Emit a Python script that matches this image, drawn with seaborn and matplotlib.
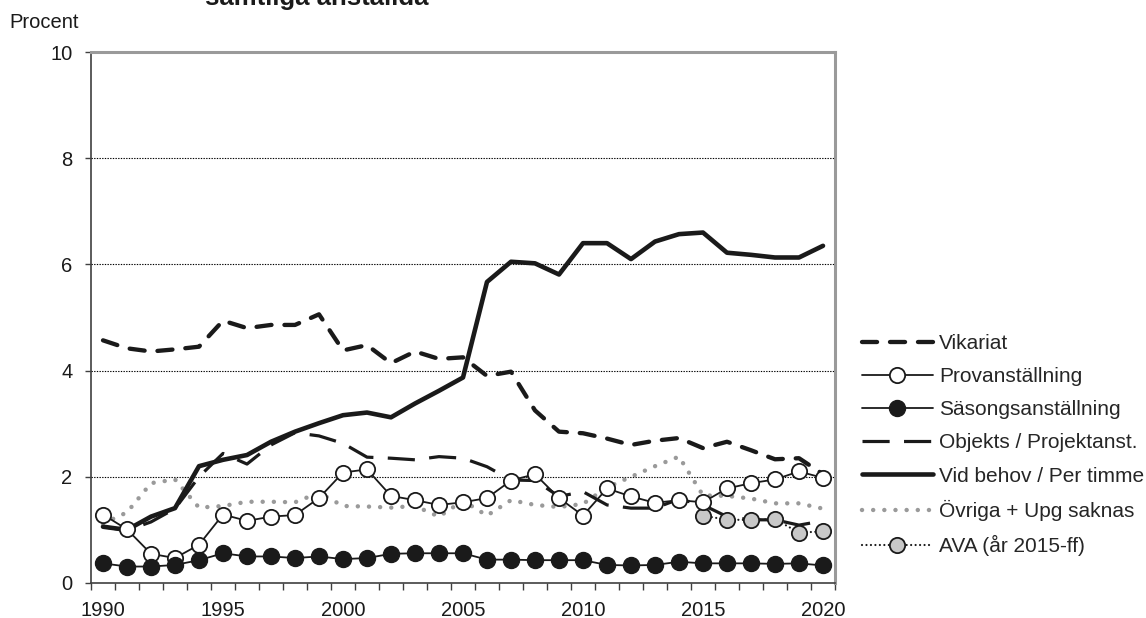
import numpy as np
import pandas as pd
import seaborn as sns
import matplotlib.pyplot as plt

years = list(range(1990, 2021))

vikariat = [4.57, 4.42, 4.36, 4.40, 4.45, 4.94, 4.80, 4.86, 4.86, 5.06, 4.38, 4.48, 4.14, 4.36,
            4.22, 4.25, 3.90, 3.98, 3.25, 2.85, 2.82, 2.72, 2.60, 2.68, 2.73, 2.54, 2.66, 2.50,
            2.33, 2.35, 2.05]
provanst = [1.29, 1.01, 0.55, 0.47, 0.72, 1.29, 1.17, 1.25, 1.28, 1.60, 2.08, 2.14, 1.64, 1.56,
            1.47, 1.52, 1.60, 1.93, 2.05, 1.60, 1.27, 1.78, 1.63, 1.51, 1.56, 1.52, 1.78, 1.88,
            1.95, 2.10, 1.98]
sasong = [0.37, 0.31, 0.31, 0.34, 0.43, 0.56, 0.50, 0.50, 0.47, 0.50, 0.45, 0.47, 0.55, 0.56,
          0.56, 0.56, 0.44, 0.44, 0.43, 0.43, 0.43, 0.34, 0.33, 0.34, 0.40, 0.37, 0.37, 0.37,
          0.36, 0.37, 0.33]
objekts = [1.06, 0.99, 1.15, 1.40, 2.00, 2.44, 2.24, 2.60, 2.83, 2.77, 2.63, 2.37, 2.35, 2.32,
           2.38, 2.35, 2.19, 1.94, 1.93, 1.63, 1.72, 1.47, 1.41, 1.41, 1.58, 1.47, 1.25, 1.19,
           1.19, 1.09, 1.17]
vid_behov = [1.06, 1.00, 1.25, 1.41, 2.20, 2.32, 2.41, 2.66, 2.85, 3.01, 3.16, 3.21, 3.12, 3.38,
             3.62, 3.87, 5.67, 6.05, 6.02, 5.81, 6.40, 6.40, 6.10, 6.43, 6.57, 6.60, 6.22, 6.18,
             6.13, 6.13, 6.35]
ovriga = [1.12, 1.33, 1.88, 1.95, 1.42, 1.45, 1.53, 1.53, 1.52, 1.70, 1.45, 1.44, 1.42, 1.45,
          1.25, 1.55, 1.27, 1.56, 1.47, 1.43, 1.49, 1.80, 2.00, 2.20, 2.38, 1.65, 1.64, 1.59,
          1.50, 1.50, 1.40]
ava_years = [2015, 2016, 2017, 2018, 2019, 2020]
ava = [1.27, 1.19, 1.19, 1.20, 0.95, 0.97]

labels = ['Vikariat', 'Provanställning', 'Säsongsanställning', 'Objekts / Projektanst.',
          'Vid behov / Per timme', 'Övriga + Upg saknas', 'AVA (år 2015-ff)']

sns.set_style('white')
plt.rcParams['font.family'] = ['Liberation Sans', 'DejaVu Sans']

fig = plt.figure(figsize=(11.46, 6.18), dpi=100)
ax = fig.add_axes([91 / 1146, 1 - 583 / 618, (835 - 91) / 1146, (583 - 52) / 618])

# gray dotted series at the bottom
sns.lineplot(x=years, y=ovriga, ax=ax, color='#9a9a9a', lw=3.2,
             linestyle=(0, (0.01, 2.5)), dash_capstyle='round', label=labels[5], zorder=2)
sns.lineplot(x=years, y=vikariat, ax=ax, color='#1a1a1a', lw=3.1,
             linestyle=(0, (3.5, 3.0)), dash_capstyle='round', label=labels[0], zorder=3)
sns.lineplot(x=years, y=objekts, ax=ax, color='#1a1a1a', lw=2.3,
             linestyle=(0, (8.5, 4.5)), label=labels[3], zorder=3)
sns.lineplot(x=years, y=vid_behov, ax=ax, color='#1a1a1a', lw=3.3,
             linestyle='-', label=labels[4], zorder=3)
sns.lineplot(x=ava_years, y=ava, ax=ax, color='#1a1a1a', lw=1.6,
             linestyle=(0, (0.01, 2.0)), dash_capstyle='round', marker='o',
             markersize=11, markerfacecolor='#c8c8c8', markeredgecolor='#1a1a1a',
             markeredgewidth=1.3, label=labels[6], zorder=4)
sns.lineplot(x=years, y=provanst, ax=ax, color='#1a1a1a', lw=1.3, marker='o',
             markersize=11, markerfacecolor='white', markeredgecolor='#1a1a1a',
             markeredgewidth=1.3, label=labels[1], zorder=4)
sns.lineplot(x=years, y=sasong, ax=ax, color='#1a1a1a', lw=1.3, marker='o',
             markersize=11.5, markerfacecolor='#1a1a1a', markeredgecolor='#1a1a1a',
             markeredgewidth=1.0, label=labels[2], zorder=4)

ax.set_xlim(1989.5, 2020.5)
ax.set_ylim(0, 10)
ax.set_xlabel('')
ax.set_ylabel('')

# y axis
ax.set_yticks([0, 2, 4, 6, 8, 10])
ax.set_yticklabels(['0', '2', '4', '6', '8', '10'])
for yv in [2, 4, 6, 8]:
    ax.axhline(yv, color='black', lw=0.8, linestyle=(0, (1.2, 1.2)), zorder=1)

# x axis: tick marks between years, labels every fifth year
ax.set_xticks(np.arange(1989.5, 2021, 1))
ax.set_xticklabels([])
ax.set_xticks([1990, 1995, 2000, 2005, 2010, 2015, 2020], minor=True)
ax.set_xticklabels(['1990', '1995', '2000', '2005', '2010', '2015', '2020'], minor=True)
ax.tick_params(axis='x', which='major', direction='out', length=5, width=1.0,
               color='#404040', bottom=True)
ax.tick_params(axis='x', which='minor', length=0, pad=13, labelsize=14.5, colors='#1a1a1a')
ax.tick_params(axis='y', direction='out', length=4.5, width=1.0, color='#404040',
               left=True, pad=9, labelsize=14.5, labelcolor='#1a1a1a')

for side in ['left', 'bottom']:
    ax.spines[side].set_color('#404040')
    ax.spines[side].set_linewidth(1.2)
for side in ['top', 'right']:
    ax.spines[side].set_color('#9a9a9a')
    ax.spines[side].set_linewidth(2.2)

handles, labs = ax.get_legend_handles_labels()
order = [labs.index(l) for l in labels]
ax.legend([handles[i] for i in order], [labs[i] for i in order],
          loc='center left', bbox_to_anchor=(862 / 1146, 1 - 445 / 618),
          bbox_transform=fig.transFigure, frameon=False, fontsize=15,
          handlelength=3.4, handletextpad=0.3, labelspacing=0.68, borderpad=0,
          borderaxespad=0)

fig.text(9 / 1146, 1 - 28 / 618, 'Procent', fontsize=14.5, color='#1a1a1a', va='baseline')
fig.text(205 / 1146, 1 - 5 / 618, 'samtliga anställda', fontsize=18.5, fontweight='bold',
         color='#1a1a1a', va='baseline')

fig.savefig('out.png', dpi=100)
